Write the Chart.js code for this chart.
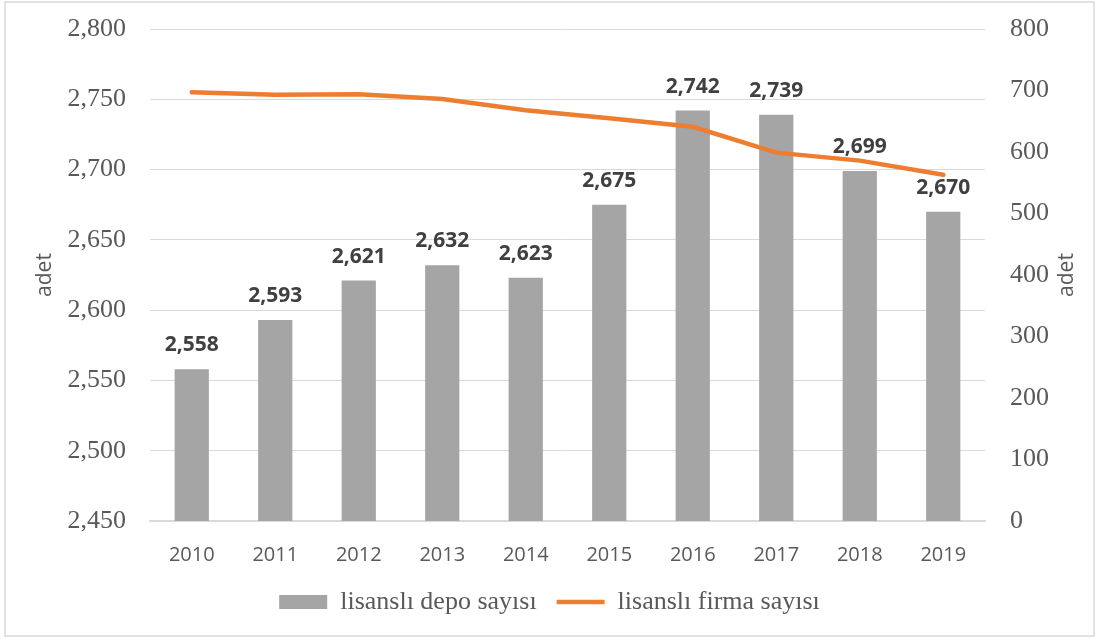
<!DOCTYPE html>
<html>
<head>
<meta charset="utf-8">
<script src="https://cdn.jsdelivr.net/npm/chart.js@4/dist/chart.umd.min.js"></script>
<style>
  html, body { margin: 0; padding: 0; background: #fff; }
  #wrap { width: 1099px; height: 639px; }
</style>
</head>
<body>
<div id="wrap"><canvas id="chart" width="1099" height="639"></canvas></div>
<script>
const years = ["2010", "2011", "2012", "2013", "2014", "2015", "2016", "2017", "2018", "2019"];
const depoSayisi = [2558, 2593, 2621, 2632, 2623, 2675, 2742, 2739, 2699, 2670];
const firmaSayisi = [697, 693, 694, 686, 668, 655, 641, 599, 586, 563];

const depoLabel = "lisanslı depo sayısı";
const firmaLabel = "lisanslı firma sayısı";
const axisTitle = "adet";

const tickColor = "#595959";
const gridColor = "#d9d9d9";

// values above the bars
const barValues = {
    id: "barValues",
    afterDatasetsDraw(chart) {
        const ctx = chart.ctx;
        const meta = chart.getDatasetMeta(0);
        ctx.save();
        ctx.font = "bold 21px 'Open Sans'";
        ctx.fillStyle = "#404040";
        ctx.textAlign = "center";
        ctx.textBaseline = "alphabetic";
        meta.data.forEach((bar, i) => {
            ctx.fillText(depoSayisi[i].toLocaleString("en-US"), bar.x, bar.y - 18);
        });
        ctx.restore();
    }
};

// outer frame + right axis title (reads bottom to top like the left one)
const frame = {
    id: "frame",
    beforeDraw(chart) {
        const ctx = chart.ctx;
        ctx.save();
        ctx.fillStyle = "#fff";
        ctx.fillRect(0, 0, chart.width, chart.height);
        ctx.strokeStyle = gridColor;
        ctx.lineWidth = 1.5;
        ctx.strokeRect(5, 2, 1089, 634);
        ctx.restore();
    },
    afterDraw(chart) {
        const ctx = chart.ctx;
        const area = chart.chartArea;
        ctx.save();
        ctx.translate(1067, (area.top + area.bottom) / 2);
        ctx.rotate(-Math.PI / 2);
        ctx.font = "21px 'Open Sans'";
        ctx.fillStyle = tickColor;
        ctx.textAlign = "center";
        ctx.textBaseline = "middle";
        ctx.fillText(axisTitle, 0, 0);
        ctx.restore();
    }
};

new Chart(document.getElementById("chart"), {
    type: "bar",
    data: {
        labels: years,
        datasets: [{
            label: depoLabel,
            data: depoSayisi,
            backgroundColor: "#a5a5a5",
            borderWidth: 0,
            barPercentage: 0.41,
            categoryPercentage: 1,
            yAxisID: "y",
            order: 1,
            pointStyle: "rect"
        }, {
            type: "line",
            label: firmaLabel,
            data: firmaSayisi,
            borderColor: "#ed7d31",
            backgroundColor: "#ed7d31",
            borderWidth: 4.5,
            borderCapStyle: "round",
            pointRadius: 0,
            tension: 0,
            yAxisID: "y1",
            order: 0,
            pointStyle: "line"
        }]
    },
    options: {
        responsive: false,
        animation: false,
        layout: { padding: { top: 29, left: 0, right: 0, bottom: 14 } },
        scales: {
            x: {
                offset: true,
                grid: { display: false },
                border: { display: true, color: gridColor, width: 1.5 },
                ticks: { color: tickColor, font: { family: "'Open Sans'", size: 20 }, padding: 14, maxRotation: 0 },
                afterFit: scale => { scale.height = 48; }
            },
            y: {
                position: "left",
                min: 2450,
                max: 2800,
                ticks: {
                    stepSize: 50,
                    color: tickColor,
                    padding: 24,
                    font: { family: "'Liberation Serif'", size: 26 },
                    callback: v => v.toLocaleString("en-US")
                },
                grid: { color: gridColor, lineWidth: 1, drawTicks: false },
                border: { display: false },
                title: { display: true, text: axisTitle, color: tickColor, font: { family: "'Open Sans'", size: 21 }, padding: { top: 32 } },
                afterFit: scale => { scale.width = 150; scale.paddingTop = 0; scale.paddingBottom = 0; }
            },
            y1: {
                position: "right",
                min: 0,
                max: 800,
                ticks: {
                    stepSize: 100,
                    color: tickColor,
                    padding: 25,
                    font: { family: "'Liberation Serif'", size: 26 }
                },
                grid: { display: false, drawTicks: false },
                border: { display: false },
                afterFit: scale => { scale.width = 114; scale.paddingTop = 0; scale.paddingBottom = 0; }
            }
        },
        plugins: {
            legend: {
                position: "bottom",
                labels: {
                    color: tickColor,
                    font: { family: "'Liberation Serif'", size: 26 },
                    usePointStyle: true,
                    pointStyleWidth: 48,
                    boxHeight: 14,
                    padding: 20,
                    sort: (a, b) => a.datasetIndex - b.datasetIndex
                }
            },
            tooltip: { enabled: false }
        }
    },
    plugins: [frame, barValues]
});
</script>
</body>
</html>
